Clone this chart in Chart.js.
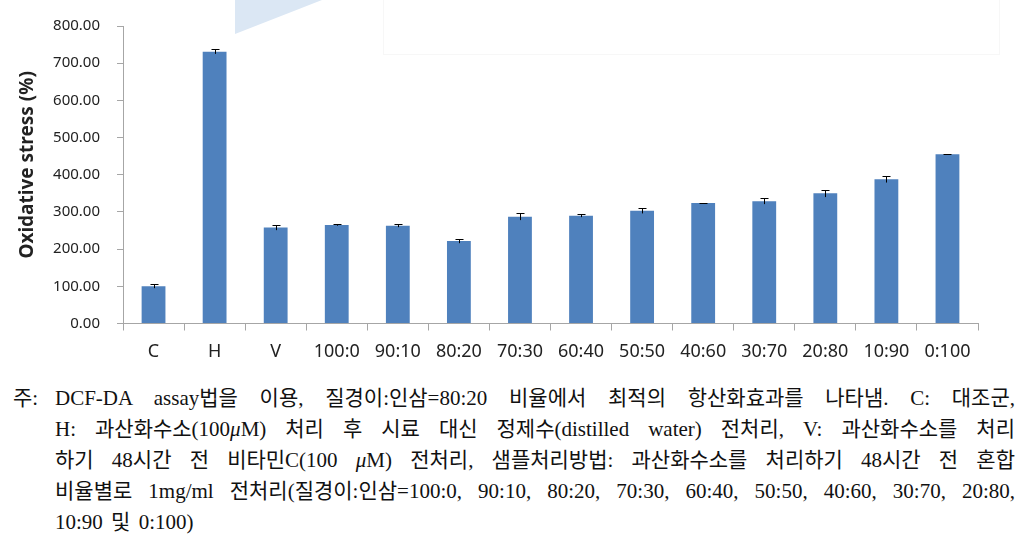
<!DOCTYPE html>
<html><head><meta charset="utf-8">
<script src="https://cdn.jsdelivr.net/npm/chart.js@4"></script>
<style>
body{margin:0;background:#fff;width:1027px;height:544px;overflow:hidden;position:relative;}
#c{position:absolute;left:0;top:0;}
.tri{position:absolute;left:235px;top:0;width:87px;height:34px;background:#dbe7f4;clip-path:polygon(0 0,100% 0,0 100%);}
.box{position:absolute;left:383px;top:-1px;width:617px;height:56px;border:1px solid #f7f7f7;box-sizing:border-box;}
#cap{position:absolute;left:0;top:383px;width:1015px;font-family:"Liberation Serif","Noto Sans CJK KR",serif;font-size:21px;color:#111;}
.ln{margin-left:55px;height:31px;line-height:31px;text-align:justify;text-align-last:justify;white-space:normal;overflow:visible;}
.ln.last{text-align:left;text-align-last:left;word-spacing:3px;}
.note{position:absolute;left:13px;top:0;line-height:31px;}
i{font-style:italic;}
</style></head>
<body>
<canvas id="c" width="1027" height="370"></canvas>
<div class="tri"></div>
<div class="box"></div>
<div id="cap">
<span class="note">주:</span>
<div class="ln">DCF-DA assay법을 이용, 질경이:인삼=80:20 비율에서 최적의 항산화효과를 나타냄. C: 대조군,</div>
<div class="ln">H: 과산화수소(100<i>μ</i>M) 처리 후 시료 대신 정제수(distilled water) 전처리, V: 과산화수소를 처리</div>
<div class="ln">하기 48시간 전 비타민C(100 <i>μ</i>M) 전처리, 샘플처리방법: 과산화수소를 처리하기 48시간 전 혼합</div>
<div class="ln">비율별로 1mg/ml 전처리(질경이:인삼=100:0, 90:10, 80:20, 70:30, 60:40, 50:50, 40:60, 30:70, 20:80,</div>
<div class="ln last">10:90 및 0:100)</div>
</div>
<script>
const categories = ['C','H','V','100:0','90:10','80:20','70:30','60:40','50:50','40:60','30:70','20:80','10:90','0:100'];
const values = [100,731,258,265,263,222,287,290,303,324,329,350,388,455];
const errors = [5,6,7,2,4,6,9,4,7,1,8,10,9,1];
const yMin = 0, yMax = 800, yStep = 100;
const yTitle = '\u00A0\u00A0\u00A0\u00A0Oxidative stress (%)';

const errorBars = {
  id:'errorBars',
  afterDatasetsDraw(chart){
    const ctx = chart.ctx, meta = chart.getDatasetMeta(0), y = chart.scales.y;
    ctx.save();
    ctx.strokeStyle = '#000';
    ctx.lineWidth = 1;
    meta.data.forEach((bar,i)=>{
      const x = Math.round(bar.x)+0.5;
      const top = Math.round(y.getPixelForValue(values[i]+errors[i]))+0.5;
      const bot = y.getPixelForValue(values[i]-errors[i]);
      ctx.beginPath();
      ctx.moveTo(x,bot); ctx.lineTo(x,top);
      ctx.moveTo(x-4,top); ctx.lineTo(x+4,top);
      ctx.stroke();
    });
    ctx.restore();
  }
};

const CH = 370;
new Chart(document.getElementById('c'),{
  type:'bar',
  data:{labels:categories,datasets:[{data:values,backgroundColor:'#4f81bd',barPercentage:0.39,categoryPercentage:1}]},
  options:{
    responsive:false,animation:false,
    layout:{padding:{left:0,right:49,top:19,bottom:0}},
    plugins:{legend:{display:false},tooltip:{enabled:false}},
    scales:{
      y:{
        min:yMin,max:yMax,
        ticks:{stepSize:yStep,callback:v=>v.toFixed(2),font:{family:'Noto Sans',size:15},color:'#222',padding:17},
        grid:{drawOnChartArea:false,tickLength:6,tickColor:'#a6a6a6'},
        border:{color:'#a6a6a6'},
        title:{display:true,text:yTitle,font:{family:'Noto Sans',size:19,weight:'bold'},color:'#222',padding:{top:16,bottom:0}},
        afterFit:s=>{s.width=123;}
      },
      x:{
        grid:{offset:true,drawOnChartArea:false,tickLength:7,tickColor:'#a6a6a6'},
        border:{color:'#a6a6a6'},
        ticks:{font:{family:'Noto Sans',size:18},color:'#222',padding:11,maxRotation:0,autoSkip:false},
        afterFit:s=>{s.height=CH-323.5;}
      }
    }
  },
  plugins:[errorBars]
});
</script>
</body></html>
